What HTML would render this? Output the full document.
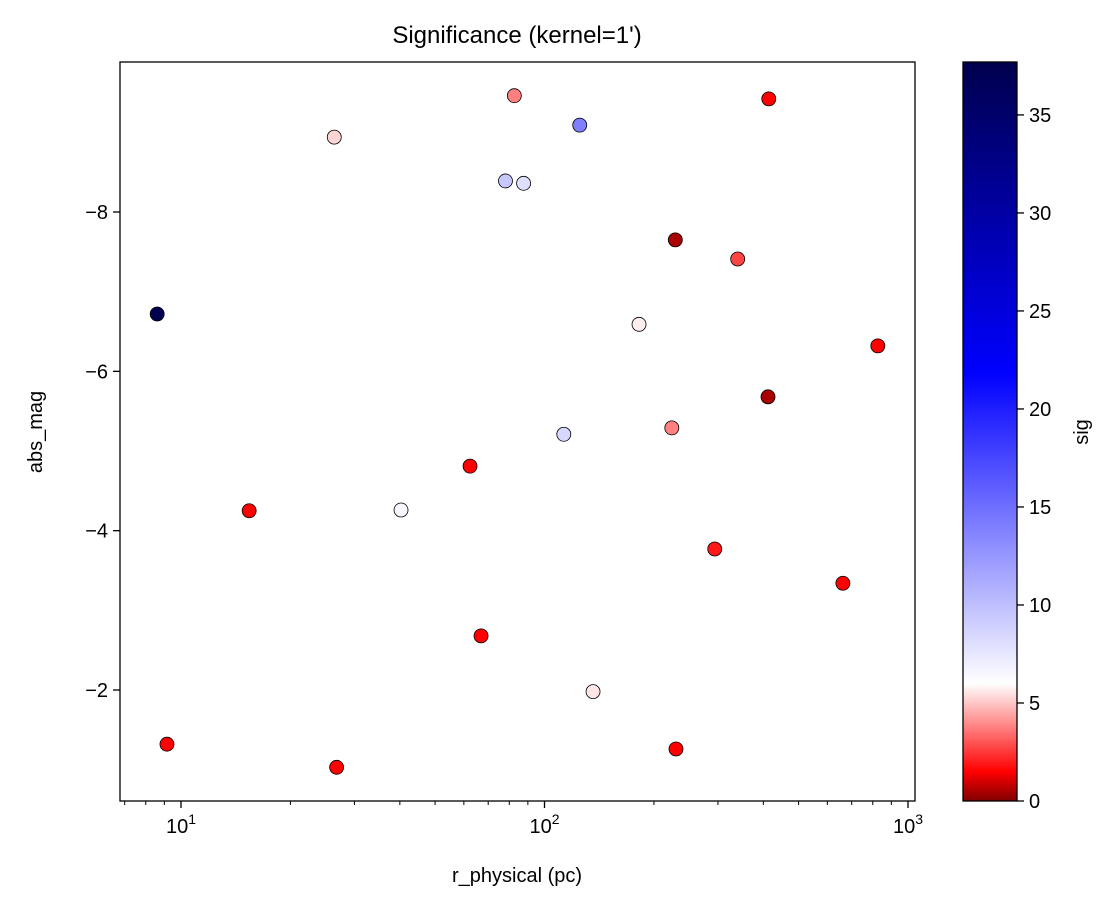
<!DOCTYPE html>
<html><head><meta charset="utf-8"><style>
body{margin:0;background:#fff;}
svg text{font-family:"Liberation Sans","DejaVu Sans",sans-serif;fill:#000;}
</style></head><body>
<svg id="chart" width="1114" height="911" xmlns="http://www.w3.org/2000/svg">
<defs>
<linearGradient id="cmap" x1="0" y1="1" x2="0" y2="0">
<stop offset="0" stop-color="#800000"/>
<stop offset="0.0398" stop-color="#ff0000"/>
<stop offset="0.1592" stop-color="#ffffff"/>
<stop offset="0.5796" stop-color="#0000ff"/>
<stop offset="1" stop-color="#00004d"/>
</linearGradient>
</defs>
<text x="517" y="43" font-size="24" text-anchor="middle">Significance (kernel=1')</text>
<g id="plot"></g>
<rect x="963" y="62" width="54" height="739" fill="url(#cmap)" stroke="#000" stroke-width="1.3"/>
<g id="cbticks"></g>
<text transform="translate(1088,432) rotate(-90)" font-size="20" text-anchor="middle">sig</text>
<text x="517" y="882" font-size="20" text-anchor="middle">r_physical (pc)</text>
<text transform="translate(42,432) rotate(-90)" font-size="20" text-anchor="middle">abs_mag</text>
</svg>
<script>
const rValues=[8.6,9.15,15.4,26.4,26.8,40.3,62.4,66.9,78.1,82.6,87.6,113,125,136,182,224,229,230,294,340,412,414,662,826];
const magValues=[-6.72,-1.32,-4.25,-8.94,-1.03,-4.26,-4.81,-2.68,-8.39,-9.46,-8.36,-5.21,-9.09,-1.98,-6.59,-5.29,-7.65,-1.26,-3.77,-7.41,-5.68,-9.42,-3.34,-6.32];
const sigValues=[37.5,3,3,5.5,3,6.5,3,3,9.5,4.5,8,8.5,14,5.7,5.8,4.5,1,3,3.3,3.8,1,3,3,3];
const yTicks=[-8,-6,-4,-2];
const xTicks=[10,100,1000];
const xTickLabels=["1","2","3"];
const cbTicks=[0,5,10,15,20,25,30,35];

const L=120,R=915,T=62,B=801;
const xs=r=>181+363.5*(Math.log10(r)-1);
const ys=v=>212+(v+8)*79.67;
const cs=s=>801-s*(739/37.7);
const VC=6,VMAX=37.7;
function color(s){
  let t=s<VC?0.5*s/VC:0.5+0.5*(s-VC)/(VMAX-VC);
  t=Math.max(0,Math.min(1,t));
  const st=[[0,[128,0,0]],[0.25,[255,0,0]],[0.5,[255,255,255]],[0.75,[0,0,255]],[1,[0,0,77]]];
  for(let i=0;i<4;i++){if(t<=st[i+1][0]){const f=(t-st[i][0])/(st[i+1][0]-st[i][0]);const a=st[i][1],b=st[i+1][1];return `rgb(${a.map((v,k)=>Math.round(v+(b[k]-v)*f)).join(',')})`;}}
  return 'rgb(0,0,77)';
}
const NS='http://www.w3.org/2000/svg';
const g=document.getElementById('plot');
function mk(tag,attrs,parent){const e=document.createElementNS(NS,tag);for(const k in attrs)e.setAttribute(k,attrs[k]);(parent||g).appendChild(e);return e;}
rValues.forEach((r,i)=>{
  const c=mk('circle',{cx:xs(r),cy:ys(magValues[i]),r:7,fill:color(sigValues[i]),stroke:'#000','stroke-width':0.8});
  
  
});
const frame=mk('rect',{x:L,y:T,width:R-L,height:B-T,fill:'none',stroke:'#000','stroke-width':1.3});


yTicks.forEach(v=>{
  const y=ys(v);
  const l=mk('line',{x1:L-7,x2:L,y1:y,y2:y,stroke:'#000','stroke-width':1.3});
  
  
  const t=mk('text',{x:L-12,y:y+7,'font-size':20,'text-anchor':'end'});t.textContent='\u2212'+Math.abs(v);
  
  
});
xTicks.forEach((v,i)=>{
  const x=xs(v);
  const l=mk('line',{x1:x,x2:x,y1:B,y2:B+7,stroke:'#000','stroke-width':1.3});
  
  
  const t=mk('text',{x:x,y:B+32,'font-size':20,'text-anchor':'middle'});
  t.innerHTML='10<tspan dy="-9" font-size="14">'+xTickLabels[i]+'</tspan>';
  
  
});
for(let d=1;d<=100;d*=10){for(let m=2;m<=9;m++){const v=d*m;const x=xs(v);if(x<L||x>R)continue;
  const l=mk('line',{x1:x,x2:x,y1:B,y2:B+4,stroke:'#000','stroke-width':1});
  
  }}
const cb=document.getElementById('cbticks');
cbTicks.forEach(v=>{
  const y=cs(v);
  const l=mk('line',{x1:1017,x2:1024,y1:y,y2:y,stroke:'#000','stroke-width':1.3},cb);
  
  
  const t=mk('text',{x:1029,y:y+7,'font-size':20},cb);t.textContent=v;
  
  
});
</script>
</body></html>
